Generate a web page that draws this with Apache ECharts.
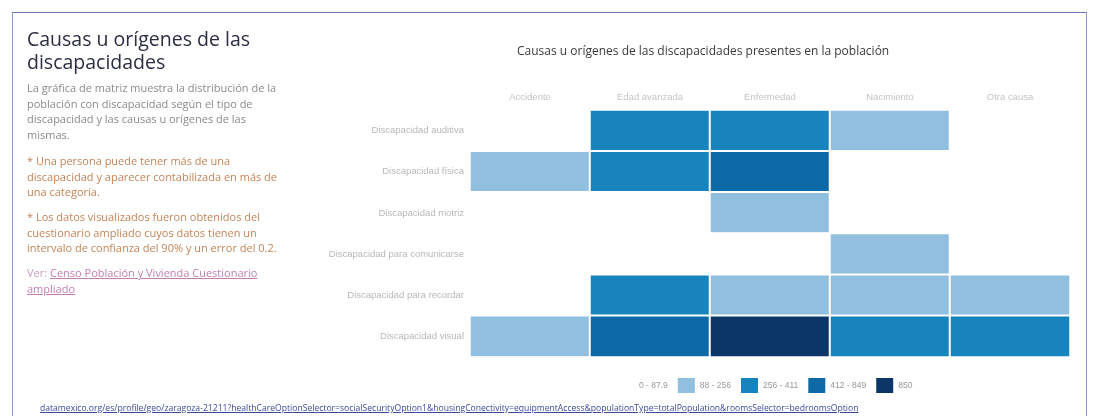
<!DOCTYPE html>
<html>
<head>
<meta charset="utf-8">
<script src="https://cdn.jsdelivr.net/npm/echarts@6/dist/echarts.min.js"></script>
<style>
  body { margin: 0; background: #fff; font-family: "Open Sans", sans-serif; }
  .frame { position: absolute; left: 12px; top: 12px; width: 1073px; height: 420px;
    border-top: 1px solid #6a7cb8; border-left: 1px solid #8a9acb; border-right: 1px solid #8a9acb; }
  .side { position: absolute; left: 27px; top: 27px; width: 256px; z-index: 2; }
  .side h2 { margin: 0; font-weight: 400; font-size: 19.5px; line-height: 23px; color: #2b2d42; }
  .side p { margin: 0; font-size: 11px; line-height: 15.5px; }
  .desc { color: #8a8a8a; margin-top: 7px !important; }
  .note { color: #c48456; }
  .link { color: #c27fb0; text-decoration: underline; }
  .url { position: absolute; left: 40px; top: 402px; font-size: 8.6px; color: #3b4a9c;
    text-decoration: underline; white-space: nowrap; z-index: 2; }
  #main { position: absolute; left: 0; top: 0; width: 1097px; height: 416px; }
</style>
</head>
<body>
<div class="frame"></div>
<div id="main"></div>
<div class="side">
  <h2>Causas u orígenes de las discapacidades</h2>
  <p class="desc">La gráfica de matriz muestra la distribución de la población con discapacidad según el tipo de discapacidad y las causas u orígenes de las mismas.</p>
  <p class="note" style="margin-top:11px">* Una persona puede tener más de una discapacidad y aparecer contabilizada en más de una categoría.</p>
  <p class="note" style="margin-top:9.5px">* Los datos visualizados fueron obtenidos del cuestionario ampliado cuyos datos tienen un intervalo de confianza del 90% y un error del 0.2.</p>
  <p style="margin-top:9.5px"><span class="link" style="text-decoration:none;color:#c9a0c0">Ver: </span><span class="link">Censo Población y Vivienda Cuestionario ampliado</span></p>
</div>
<div class="url">datamexico.org/es/profile/geo/zaragoza-21211?healthCareOptionSelector=socialSecurityOption1&amp;housingConectivity=equipmentAccess&amp;populationType=totalPopulation&amp;roomsSelector=bedroomsOption</div>
<script>
// causas (columnas) y tipos de discapacidad (filas)
var causas = ["Accidente", "Edad avanzada", "Enfermedad", "Nacimiento", "Otra causa"];
var tipos = [
  "Discapacidad auditiva",
  "Discapacidad física",
  "Discapacidad motriz",
  "Discapacidad para comunicarse",
  "Discapacidad para recordar",
  "Discapacidad visual"
];
// valores por fila (mismo orden que causas)
var auditiva = [40, 350, 320, 160, 30];
var fisica = [180, 380, 560, 60, 40];
var motriz = [50, 70, 200, 60, 75];
var comunicarse = [20, 40, 60, 170, 20];
var recordar = [50, 340, 210, 180, 150];
var visual = [190, 620, 900, 320, 300];
var filas = [auditiva, fisica, motriz, comunicarse, recordar, visual];

// rangos de la escala
var rangos = [
  { min: 0, max: 87.9, label: "0 - 87.9", color: "#ffffff" },
  { min: 88, max: 255.9, label: "88 - 256", color: "#91bfe0" },
  { min: 256, max: 411.9, label: "256 - 411", color: "#1884bd" },
  { min: 412, max: 849.9, label: "412 - 849", color: "#0e6aa7" },
  { min: 850, label: "850", color: "#0c3668" }
];

var data = [];
filas.forEach(function (fila, y) {
  fila.forEach(function (v, x) {
    data.push([x, y, v]);
  });
});

var myChart = echarts.init(document.getElementById("main"));
var option = {
  title: {
    text: "Causas u orígenes de las discapacidades presentes en la población",
    left: 512,
    top: 41,
    textStyle: { fontSize: 12, fontWeight: "normal", color: "#3a3a3a", fontFamily: "Open Sans" }
  },
  grid: { left: 470, right: 27, top: 110, bottom: 59 },
  xAxis: {
    type: "category",
    position: "top",
    data: causas,
    axisLine: { show: false },
    axisTick: { show: false },
    axisLabel: { color: "#c4c4c4", fontSize: 9.5, margin: 8 },
    splitArea: { show: false }
  },
  yAxis: {
    type: "category",
    inverse: true,
    data: tipos,
    axisLine: { show: false },
    axisTick: { show: false },
    axisLabel: { color: "#b8b8b8", fontSize: 9.5, margin: 6 }
  },
  visualMap: {
    type: "piecewise",
    orient: "horizontal",
    left: 602,
    top: 363,
    itemWidth: 17,
    itemHeight: 15,
    itemGap: 10,
    itemSymbol: "rect",
    textGap: 5,
    textStyle: { color: "#999", fontSize: 8.5 },
    pieces: rangos,
    selectedMode: false
  },
  series: [
    {
      type: "heatmap",
      data: data,
      label: { show: false },
      itemStyle: { borderColor: "#fff", borderWidth: 2 },
      emphasis: { disabled: true }
    }
  ]
};
myChart.setOption(option);
</script>
</body>
</html>
